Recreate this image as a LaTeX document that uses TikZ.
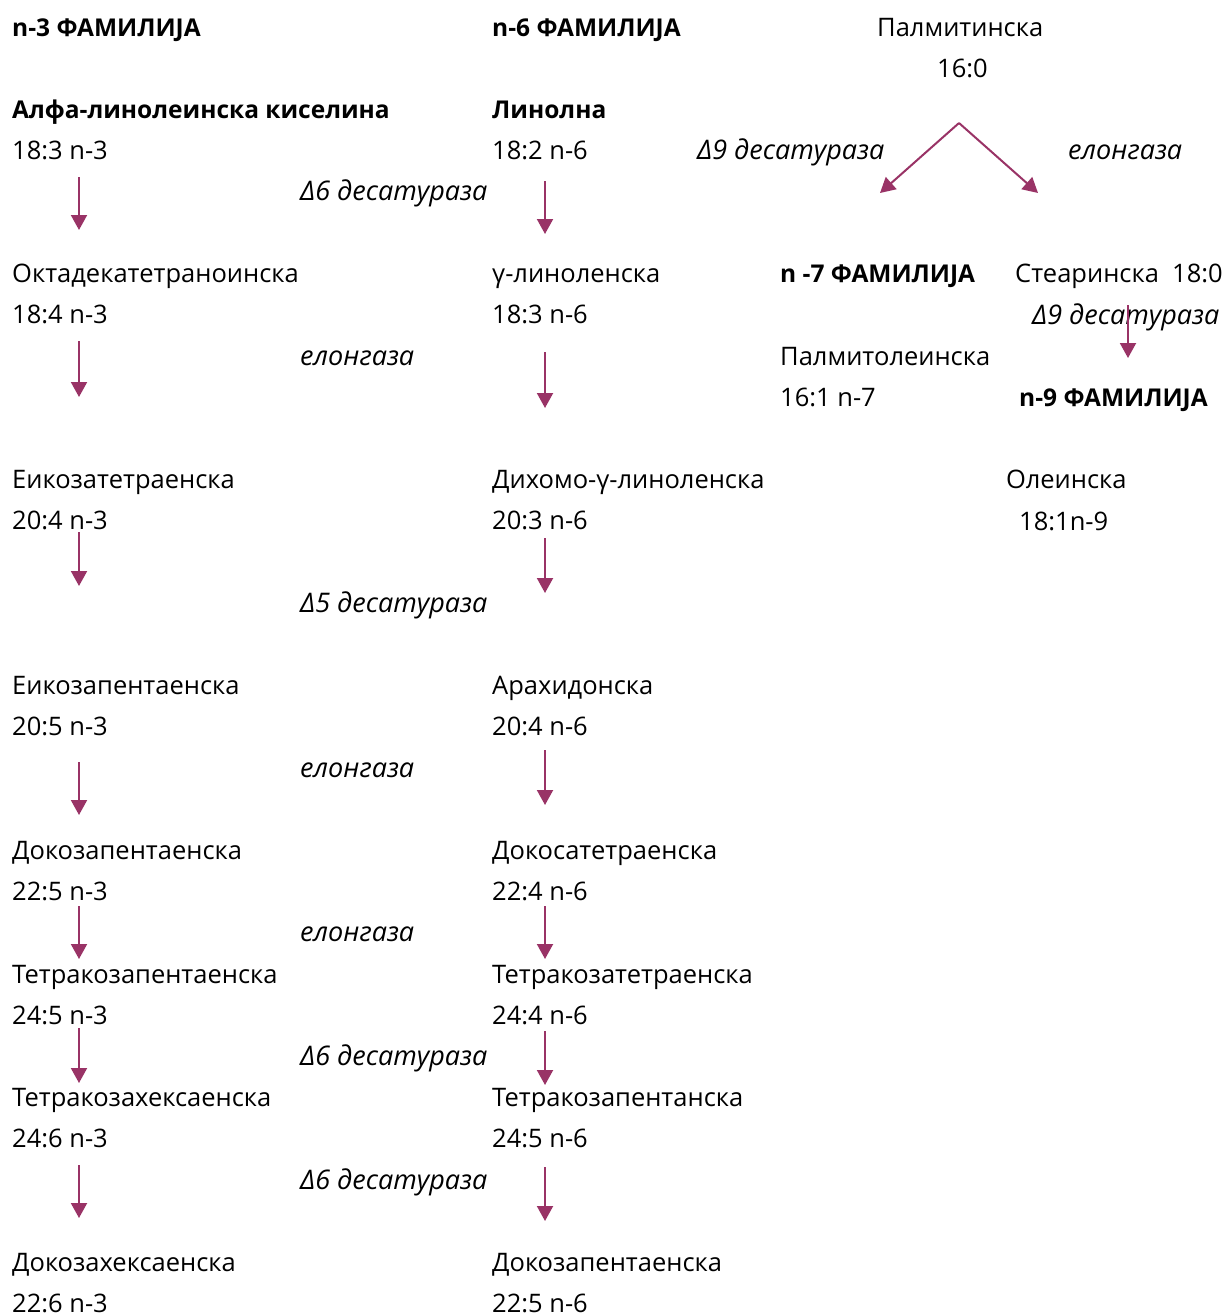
\documentclass[tikz,border=0pt]{standalone}
\usepackage{fontspec}
\setmainfont{Open Sans}
\usetikzlibrary{arrows.meta,calc,positioning}
\definecolor{faplum}{RGB}{153,51,102}

\begin{document}
\begin{tikzpicture}[x=1pt,y=-1pt,>={Triangle[length=15pt,width=16pt]},
    every node/.style={inner sep=0pt,anchor=base west,font=\fontsize{25.5}{30}\selectfont},
    fam/.style={font=\fontsize{24.5}{30}\selectfont\bfseries},
    enz/.style={font=\fontsize{27}{30}\selectfont\itshape},
    flow/.style={->,draw=faplum,line width=2pt}]
  \useasboundingbox (0,0) rectangle (1226,1315);
  % n-3 family
  \node[fam] (n3) at (12,36) {n-3 ФАМИЛИЈА};
  \node[fam] (ala) at (12,118) {Алфа-линолеинска киселина};
  \node (ala-f) at ([yshift=-41pt]ala.base west) {18:3 n-3};
  \node (okt) at (12,282) {Октадекатетраноинска};
  \node (okt-f) at ([yshift=-41pt]okt.base west) {18:4 n-3};
  \node (eta) at (12,488) {Еикозатетраенска};
  \node (eta-f) at ([yshift=-41pt]eta.base west) {20:4 n-3};
  \node (epa) at (12,694) {Еикозапентаенска};
  \node (epa-f) at ([yshift=-41pt]epa.base west) {20:5 n-3};
  \node (dpa) at (12,859) {Докозапентаенска};
  \node (dpa-f) at ([yshift=-41pt]dpa.base west) {22:5 n-3};
  \node (tpa) at (12,983) {Тетракозапентаенска};
  \node (tpa-f) at ([yshift=-41pt]tpa.base west) {24:5 n-3};
  \node (thx) at (12,1106) {Тетракозахексаенска};
  \node (thx-f) at ([yshift=-41pt]thx.base west) {24:6 n-3};
  \node (dha) at (12,1271) {Докозахексаенска};
  \node (dha-f) at ([yshift=-41pt]dha.base west) {22:6 n-3};
  % n-6 family
  \node[fam] (n6) at (492,36) {n-6 ФАМИЛИЈА};
  \node[fam] (lin) at (492,118) {Линолна};
  \node (lin-f) at ([yshift=-41pt]lin.base west) {18:2 n-6};
  \node (gla) at (492,282) {γ-линоленска};
  \node (gla-f) at ([yshift=-41pt]gla.base west) {18:3 n-6};
  \node (dgla) at (492,488) {Дихомо-γ-линоленска};
  \node (dgla-f) at ([yshift=-41pt]dgla.base west) {20:3 n-6};
  \node (ara) at (492,694) {Арахидонска};
  \node (ara-f) at ([yshift=-41pt]ara.base west) {20:4 n-6};
  \node (dta) at (492,859) {Докосатетраенска};
  \node (dta-f) at ([yshift=-41pt]dta.base west) {22:4 n-6};
  \node (tta) at (492,983) {Тетракозатетраенска};
  \node (tta-f) at ([yshift=-41pt]tta.base west) {24:4 n-6};
  \node (tpn) at (492,1106) {Тетракозапентанска};
  \node (tpn-f) at ([yshift=-41pt]tpn.base west) {24:5 n-6};
  \node (dpn) at (492,1271) {Докозапентаенска};
  \node (dpn-f) at ([yshift=-41pt]dpn.base west) {22:5 n-6};
  % enzymes between the columns
  \node[enz] (e1) at (300,200) {Δ6 десатураза};
  \node[enz] (e2) at (300,365) {елонгаза};
  \node[enz] (e3) at (300,612) {Δ5 десатураза};
  \node[enz] (e4) at (300,777) {елонгаза};
  \node[enz] (e5) at (300,941) {елонгаза};
  \node[enz] (e6) at (300,1065) {Δ6 десатураза};
  \node[enz] (e7) at (300,1189) {Δ6 десатураза};
  % palmitic branch
  \node (pal) at (877,36) {Палмитинска};
  \node (pal-f) at (937,77) {16:0};
  \node[enz] (e8) at (697,159) {Δ9 десатураза};
  \node[enz] (e9) at (1068,159) {елонгаза};
  \node[fam] (n7) at (780,282) {n -7 ФАМИЛИЈА};
  \node (ste) at (1015,282) {Стеаринска\ \ 18:0};
  \node[enz] (e10) at (1032,324) {Δ9 десатураза};
  \node (pmo) at (780,365) {Палмитолеинска};
  \node (pmo-f) at ([yshift=-41pt]pmo.base west) {16:1 n-7};
  \node[fam] (n9) at (1019,406) {n-9 ФАМИЛИЈА};
  \node (ole) at (1006,488) {Олеинска};
  \node (ole-f) at (1019,530) {18:1n-9};

  \foreach \a/\b/\s/\e in {ala-f/okt/18/-52,okt-f/eta/18/-91,eta-f/epa/3/-108,epa-f/dpa/27/-44,
      dpa-f/tpa/6/-24,tpa-f/thx/4/-23,thx-f/dha/18/-53}
    \draw[flow] ([shift={(67,\s)}]\a.base west) -- ([shift={(67,\e)}]\b.base west);
  \foreach \a/\b/\s/\e in {lin-f/gla/22/-48,gla-f/dgla/29/-80,dgla-f/ara/9/-101,ara-f/dta/15/-54,
      dta-f/tta/6/-24,tta-f/tpn/7/-21,tpn-f/dpn/20/-50}
    \draw[flow] ([shift={(53,\s)}]\a.base west) -- ([shift={(53,\e)}]\b.base west);
  \coordinate (fork) at ([shift={(22,46)}]pal-f.base west);
  \draw[flow] (fork) -- ([shift={(100,-89)}]n7.base west);
  \draw[flow] (fork) -- ([shift={(23,-89)}]ste.base west);
  \draw[flow] ([shift={(113,23)}]ste.base west) -- ([shift={(109,-48)}]n9.base west);
\end{tikzpicture}
\end{document}
